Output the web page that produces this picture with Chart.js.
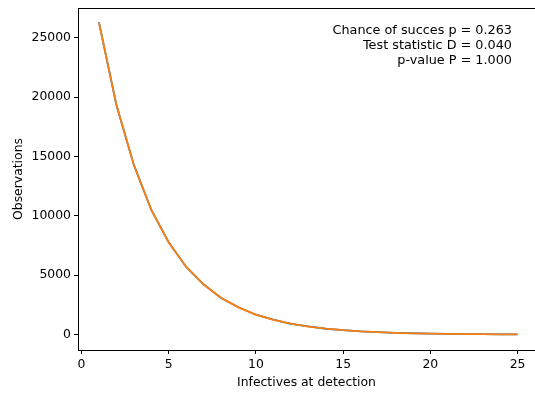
<!DOCTYPE html>
<html>
<head>
<meta charset="utf-8">
<script src="https://cdn.jsdelivr.net/npm/chart.js@4/dist/chart.umd.min.js"></script>
<style>
    html, body { margin: 0; padding: 0; background: #fff; overflow: hidden; }
    #box { width: 535px; height: 397px; position: relative; }
</style>
</head>
<body>
<div id="box"><canvas id="chart"></canvas></div>
<script>
// infectives at detection (x)
const infectives = [1, 2, 3, 4, 5, 6, 7, 8, 9, 10, 11, 12, 13, 14, 15, 16, 17, 18, 19, 20, 21, 22, 23, 24, 25];
// observed counts (blue)
const observed = [26310, 19330, 14310, 10490, 7780, 5690, 4230, 3080, 2300, 1670, 1255, 905, 690, 490, 372, 265, 205, 140, 112, 77, 61, 45, 30, 22, 19];
// fitted geometric counts (orange)
const expected = [26275, 19365, 14272, 10518, 7752, 5713, 4211, 3103, 2287, 1686, 1242, 916, 675, 497, 367, 270, 199, 147, 108, 80, 59, 43, 32, 24, 17];
const xTicks = [0, 5, 10, 15, 20, 25];
const yTicks = [0, 5000, 10000, 15000, 20000, 25000];
const statLines = ['Chance of succes p = 0.263', 'Test statistic D = 0.040', 'p-value P = 1.000'];

const FONT = 'DejaVu Sans';
const FS = 12.4;

// top spine + stats text
const extras = {
    id: 'extras',
    afterDraw(chart) {
        const { ctx, chartArea } = chart;
        const top = Math.round(chartArea.top) + 0.5;
        ctx.save();
        ctx.strokeStyle = '#000';
        ctx.lineWidth = 1;
        ctx.beginPath();
        ctx.moveTo(chartArea.left, top);
        ctx.lineTo(chartArea.right, top);
        ctx.stroke();

        ctx.fillStyle = '#000';
        ctx.font = '12.8px "' + FONT + '"';
        ctx.textAlign = 'right';
        ctx.textBaseline = 'middle';
        statLines.forEach((line, i) => {
            ctx.fillText(line, 512, 30.5 + i * 15);
        });
        ctx.restore();
    }
};

new Chart(document.getElementById('chart'), {
    type: 'line',
    data: {
        datasets: [{
            label: 'observed',
            data: infectives.map((x, i) => ({ x: x, y: observed[i] })),
            borderColor: '#1f77b4',
            borderWidth: 1.8,
            pointRadius: 0,
            tension: 0,
            order: 2
        }, {
            label: 'expected',
            data: infectives.map((x, i) => ({ x: x, y: expected[i] })),
            borderColor: '#ff7f0e',
            borderWidth: 1.8,
            pointRadius: 0,
            tension: 0,
            order: 1
        }]
    },
    options: {
        responsive: true,
        maintainAspectRatio: false,
        animation: false,
        layout: { padding: { top: 8, right: 0, left: 0, bottom: 0 } },
        plugins: {
            legend: { display: false },
            tooltip: { enabled: false }
        },
        scales: {
            x: {
                type: 'linear',
                min: -0.2,
                max: 26.0,
                afterBuildTicks: (scale) => { scale.ticks = xTicks.map(v => ({ value: v })); },
                afterFit: (scale) => {
                    scale.height = 47;
                    scale.paddingLeft = 0;
                    scale.paddingRight = 0;
                },
                ticks: {
                    color: '#000',
                    font: { family: FONT, size: FS },
                    padding: 3,
                    maxRotation: 0,
                    callback: (v) => String(v)
                },
                grid: {
                    drawOnChartArea: false,
                    drawTicks: true,
                    tickLength: 4,
                    tickColor: '#000'
                },
                border: { display: true, color: '#000', width: 1 },
                title: {
                    display: true,
                    text: 'Infectives at detection',
                    color: '#000',
                    font: { family: FONT, size: FS },
                    padding: { top: 0, bottom: 7 }
                }
            },
            y: {
                type: 'linear',
                min: -1300,
                max: 27500,
                afterBuildTicks: (scale) => { scale.ticks = yTicks.map(v => ({ value: v })); },
                afterFit: (scale) => {
                    scale.width = 78;
                    scale.paddingTop = 0;
                    scale.paddingBottom = 0;
                },
                ticks: {
                    color: '#000',
                    font: { family: FONT, size: FS },
                    padding: 3,
                    callback: (v) => String(v)
                },
                grid: {
                    drawOnChartArea: false,
                    drawTicks: true,
                    tickLength: 4,
                    tickColor: '#000'
                },
                border: { display: true, color: '#000', width: 1 },
                title: {
                    display: true,
                    text: 'Observations',
                    color: '#000',
                    font: { family: FONT, size: FS },
                    padding: { top: 11, bottom: 0 }
                }
            }
        }
    },
    plugins: [extras]
});
</script>
</body>
</html>
